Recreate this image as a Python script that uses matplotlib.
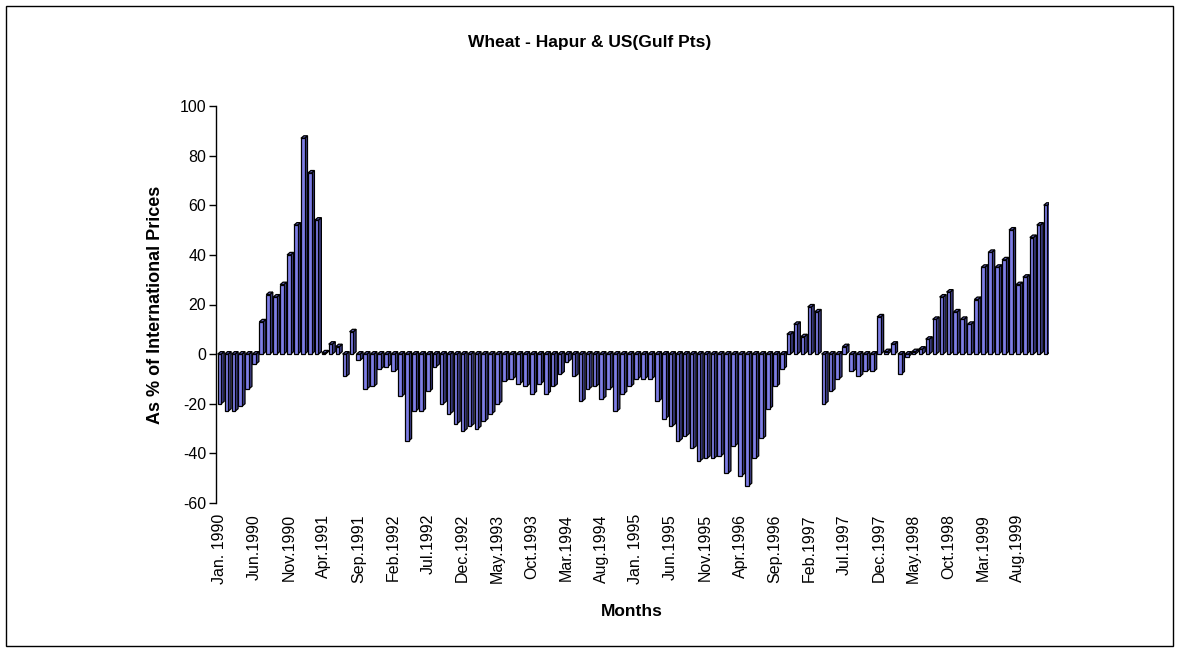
import numpy as np
import matplotlib.pyplot as plt
from matplotlib.patches import Polygon, Rectangle

plt.rcParams['font.family'] = ['Liberation Sans', 'DejaVu Sans']
plt.rcParams['axes.unicode_minus'] = False

# monthly values, % of international price (Hapur wheat vs US Gulf)
y1990 = [-20, -23, -23, -21, -14, -4, 13, 24, 23, 28, 40, 52]
y1991 = [87, 73, 54, 0.5, 4, 3, -9, 9, -2.5, -14, -13, -6]
y1992 = [-5, -7, -17, -35, -23, -23, -15, -5, -20, -24, -28, -31]
y1993 = [-29, -30, -27, -24, -20, -11, -10, -12, -13, -16, -12, -16]
y1994 = [-13, -8, -3, -9, -19, -14, -13, -18, -14, -23, -16, -13]
y1995 = [-10, -10, -10, -19, -26, -29, -35, -33, -38, -43, -42, -42]
y1996 = [-41, -48, -37, -49, -53, -42, -34, -22, -13, -6, 8, 12]
y1997 = [7, 19, 17, -20, -15, -10, 3, -7, -9, -7, -7, 15]
y1998 = [1, 4, -8, -1, 1, 2, 6, 14, 23, 25, 17, 14]
y1999 = [12, 22, 35, 41, 35, 38, 50, 28, 31, 47, 52, 60]

values = y1990 + y1991 + y1992 + y1993 + y1994 + y1995 + y1996 + y1997 + y1998 + y1999

tick_labels = ['Jan. 1990', 'Jun.1990', 'Nov.1990', 'Apr.1991', 'Sep.1991', 'Feb.1992',
               'Jul.1992', 'Dec.1992', 'May.1993', 'Oct.1993', 'Mar.1994', 'Aug.1994',
               'Jan. 1995', 'Jun.1995', 'Nov.1995', 'Apr.1996', 'Sep.1996', 'Feb.1997',
               'Jul.1997', 'Dec.1997', 'May.1998', 'Oct.1998', 'Mar.1999', 'Aug.1999']

W, H = 1179, 652
fig = plt.figure(figsize=(W / 100, H / 100), dpi=100)
ax = fig.add_axes([216 / W, 1 - 503 / H, (1049 - 216) / W, (503 - 106) / H])

# pseudo 3d columns: front face, side face, top face
hw = 0.26      # half width of front face (in months)
dx = 0.42      # depth offset in x
dy = 1.0       # depth offset in y (value units)
front_c = '#7e7ee6'
side_c = '#3e3e8a'
top_c = '#6464c4'
for i, v in enumerate(values):
    lo, hi = min(0, v), max(0, v)
    z = 2 + i * 0.01
    side = Polygon([(i + hw, lo), (i + hw + dx, lo + dy), (i + hw + dx, hi + dy), (i + hw, hi)],
                   closed=True, facecolor=side_c, edgecolor='black', lw=0.9, zorder=z)
    top = Polygon([(i - hw, hi), (i - hw + dx, hi + dy), (i + hw + dx, hi + dy), (i + hw, hi)],
                  closed=True, facecolor=top_c, edgecolor='black', lw=0.9, zorder=z)
    front = Rectangle((i - hw, lo), 2 * hw, hi - lo, facecolor=front_c,
                      edgecolor='black', lw=0.9, zorder=z + 0.005)
    ax.add_patch(side)
    ax.add_patch(top)
    ax.add_patch(front)

ax.set_xlim(-0.5, len(values) - 0.5)
ax.set_ylim(-60, 100)
ax.set_yticks(np.arange(-60, 101, 20))
ax.set_xticks(np.arange(0, len(values), 5))
ax.set_xticklabels(tick_labels, rotation=90, fontsize=11.5)
ax.tick_params(axis='x', length=0, pad=8)
ax.tick_params(axis='y', direction='out', length=5, width=1, labelsize=11.5, pad=2)
for s in ['top', 'right', 'bottom']:
    ax.spines[s].set_visible(False)
ax.spines['left'].set_linewidth(1)

ax.set_ylabel('As % of International Prices', fontsize=13, fontweight='bold')
ax.yaxis.set_label_coords((164 - 216) / (1049 - 216), 0.5)
fig.text(0.536, 1 - 612 / H, 'Months', ha='center', va='center', fontsize=12.5, fontweight='bold')
fig.text(0.5, 1 - 42 / H, 'Wheat - Hapur & US(Gulf Pts)', ha='center', va='center',
         fontsize=12.5, fontweight='bold')

fig.patches.append(Rectangle((6 / W, 6 / H), 1 - 12 / W, 1 - 12 / H, transform=fig.transFigure,
                             fill=False, edgecolor='black', lw=1))

fig.savefig('out.png', dpi=100)
